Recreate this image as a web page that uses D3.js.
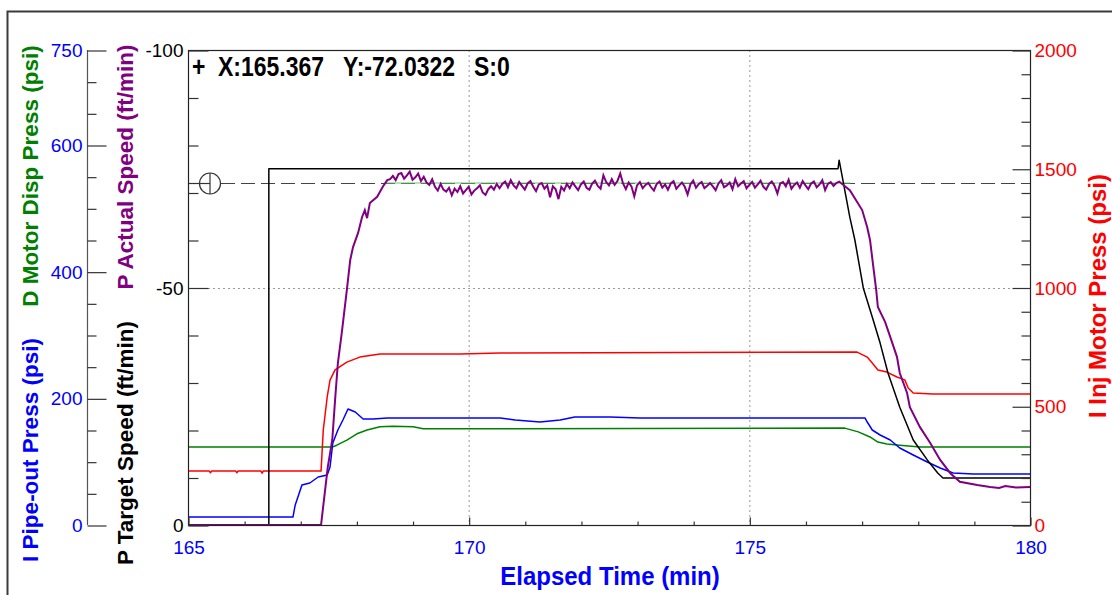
<!DOCTYPE html>
<html><head><meta charset="utf-8">
<script src="https://cdn.jsdelivr.net/npm/d3@7"></script>
<style>
html,body{margin:0;padding:0;background:#fff;}
svg{display:block;}
text{font-family:"Liberation Sans",Arial,sans-serif;}
</style>
</head><body>
<svg id="chart" width="1112" height="595"></svg>
<script>
// ---------------- DATA ----------------
const xTicks = [165, 170, 175, 180];
const leftPsiTicks = [0, 200, 400, 600, 750];
const speedTicks = [0, -50, -100];
const rightPsiTicks = [0, 500, 1000, 1500, 2000];
const headerItems = ["+", "X:165.367", "Y:-72.0322", "S:0"];
const cursorY = -72.0322;

// P Target Speed (ft/min) [time, value]
const targetSpeed = [[165,0],[166.44,0],[166.44,-75],[176.58,-75],[176.60,-76.8],[176.79,-64.8],[176.88,-60.0],
  [177.03,-49.9],[177.19,-43.8],[177.33,-38.3],[177.47,-32.0],[177.68,-24.8],[177.92,-17.9],[178.17,-13.7],
  [178.36,-10.9],[178.45,-9.9],[180,-9.9]];

// P Actual Speed (ft/min): rise, sampled plateau, fall
const actualRise = [[165,0],[167.37,0],[167.49,-12.2],[167.57,-17.9],[167.62,-26.3],[167.67,-34.1],[167.74,-40.5],
  [167.83,-49.5],[167.89,-55.8],[167.94,-58.5],[168.03,-61.5],[168.10,-64.8],[168.15,-66.3],[168.19,-64.6],
  [168.24,-67.8],[168.37,-69.1],[168.47,-71.2],[168.55,-72.6]];
const plateauStart = 168.60, plateauStep = 0.05;
const actualPlateau = [
  -72.8,-73.5,-72.6,-73.9,-74.1,-72.9,-73.6,-74.4,-72.7,-73.2,-74.0,-72.4,-73.3,-72.1,-71.6,-72.8,-71.2,-70.4,-71.8,-70.6,
  -70.2,-71.0,-69.4,-70.8,-70.1,-71.3,-69.8,-70.5,-71.2,-69.6,-70.4,-70.9,-71.5,-70.0,-69.5,-70.7,-71.3,-70.6,-71.8,-70.9,
  -71.8,-72.3,-71.1,-72.6,-71.5,-70.9,-72.2,-71.4,-70.6,-71.9,-72.4,-71.2,-70.3,-71.7,-72.0,-70.8,-71.5,-69.0,-71.3,-70.7,
  -68.6,-71.2,-70.4,-71.8,-70.9,-72.1,-71.3,-70.5,-71.7,-72.3,-71.0,-70.6,-71.9,-72.5,-71.4,-70.8,-73.6,-72.2,-71.5,-72.8,
  -71.6,-72.4,-74.0,-71.9,-70.7,-72.1,-71.3,-69.2,-71.5,-72.2,-70.9,-71.6,-72.0,-71.1,-70.4,-71.8,-72.3,-71.0,-71.7,-70.6,
  -71.9,-72.4,-70.8,-71.5,-72.1,-71.2,-69.6,-71.7,-72.5,-71.0,-71.8,-72.2,-70.9,-71.4,-72.0,-71.3,-70.5,-71.9,-72.6,-71.1,
  -71.5,-72.1,-70.7,-72.8,-71.3,-71.9,-72.4,-70.9,-71.6,-72.2,-71.0,-71.7,-72.5,-71.2,-70.6,-71.8,-72.3,-71.4,-69.8,-71.9,
  -72.2,-71.3,-72.7,-70.8,-71.6,-72.1,-71.0,-72.4,-71.5,-70.7,-71.9,-72.3,-71.1,-71.7,-72.6,-70.5,-71.8,-72.2,-71.4,-72.0,
  -72.3];
const actualFall = [[176.79,-70.5],[177.01,-66.3],[177.10,-62.7],[177.15,-60.0],[177.20,-55.2],[177.26,-49.5],
  [177.29,-45.9],[177.42,-42.7],[177.51,-39.6],[177.63,-35.4],[177.68,-32.0],[177.81,-27.8],[177.86,-24.8],
  [178.04,-20.6],[178.22,-17.3],[178.40,-13.7],[178.58,-10.9],[178.75,-9.1],[179.06,-8.4],[179.29,-8.0],
  [179.45,-7.8],[179.56,-8.2],[179.75,-7.9],[180,-8.0]];

// I Pipe-out Press (psi, 0-750)
const pipeOut = [[165,12.6],[166.87,12.6],[166.91,31.6],[167.03,63.2],[167.17,66.3],[167.32,75.8],[167.48,79.0],
  [167.53,91.6],[167.58,129.5],[167.67,150],[167.76,165.8],[167.85,183.2],[167.98,178.4],[168.12,167.4],
  [168.30,167.4],[168.55,169],[170.56,169],[170.83,165.8],[171.27,162.6],[171.63,165.8],[171.89,170.5],
  [172.52,170.5],[173.05,169],[177.06,169],[177.10,162.6],[177.19,150],[177.33,142.1],[177.51,134.2],
  [177.68,121.6],[177.92,110.5],[178.17,99.5],[178.40,90],[178.63,82.1],[178.99,80.5],[180,80.5]];

// D Motor Disp Press (psi, 0-750)
const motorDisp = [[165,123],[167.57,123],[167.65,126],[167.83,134],[168.01,144],[168.19,150],[168.42,155],
  [168.65,156],[169.01,155],[169.19,152],[169.85,152],[176.70,153],[176.94,147],[177.15,139],[177.29,131],
  [177.45,128],[177.68,126],[178.04,123],[180,123]];

// I Inj Motor Press (psi, 0-2000)
const injMotor = [[165,227],[165.38,227],[165.40,220],[165.42,227],[165.85,227],[165.87,220],[165.89,227],
  [166.30,227],[166.32,218],[166.34,227],[167.37,227],[167.41,400],[167.48,539],[167.53,610],[167.62,653],
  [167.83,686],[168.06,707],[168.42,720],[169.85,720],[170.56,724],[176.92,728],[177.10,707],[177.19,682],
  [177.29,653],[177.45,644],[177.63,623],[177.77,611],[177.83,577],[177.92,556],[178.27,552],[180,552]];

// green set-point trace under the actual speed
const setPoint = [[168.50,-72.0],[176.80,-72.0]];

// ---------------- CHART ----------------
const svg = d3.select("#chart");
const L = 188, R = 1030, T = 50, B = 525;
const x = d3.scaleLinear().domain([165, 180]).range([L, R]);
const ySpeed = d3.scaleLinear().domain([0, -100]).range([B, T]);
const yPsiL = d3.scaleLinear().domain([0, 750]).range([B, T]);
const yPsiR = d3.scaleLinear().domain([0, 2000]).range([B, T]);

const C = {blue:"#0000ff", green:"#008000", purple:"#800080", red:"#ff0000", black:"#000000"};
const plain = d => String(d);

// outer frame
svg.append("path").attr("d", "M7.5,595 L7.5,11.5 L1112,11.5").attr("fill","none").attr("stroke","#3a3a3a").attr("stroke-width",2);

// grid
const grid = svg.append("g").attr("stroke","#999").attr("stroke-dasharray","2,3").attr("stroke-width",1);
[170,175].forEach(v => grid.append("line").attr("x1",x(v)+0.5).attr("x2",x(v)+0.5).attr("y1",T).attr("y2",B));
grid.append("line").attr("x1",L+20).attr("x2",R-18).attr("y1",Math.round(ySpeed(-50))+0.5).attr("y2",Math.round(ySpeed(-50))+0.5);

// cursor marker and dashed line
const cy = Math.round(ySpeed(cursorY)) + 0.5;
svg.append("line").attr("x1",221).attr("x2",R).attr("y1",cy).attr("y2",cy)
  .attr("stroke","#444").attr("stroke-width",1.2).attr("stroke-dasharray","14,6");
svg.append("circle").attr("cx",210).attr("cy",cy).attr("r",10.5).attr("fill","none").attr("stroke","#333").attr("stroke-width",1.2);
svg.append("line").attr("x1",210).attr("x2",210).attr("y1",cy-10.5).attr("y2",cy+10.5).attr("stroke","#333").attr("stroke-width",1.2);
svg.append("line").attr("x1",L).attr("x2",210).attr("y1",cy).attr("y2",cy).attr("stroke","#333").attr("stroke-width",1.2);

// series
const lineSpeed = d3.line().x(d => x(d[0])).y(d => ySpeed(d[1]));
const lineL = d3.line().x(d => x(d[0])).y(d => yPsiL(d[1]));
const lineR = d3.line().x(d => x(d[0])).y(d => yPsiR(d[1]));
const actualSpeed = actualRise
  .concat(actualPlateau.map((v, i) => [plateauStart + i * plateauStep, v]))
  .concat(actualFall);

const series = svg.append("g").attr("fill","none").attr("stroke-width",1.5).attr("stroke-linejoin","round");
series.append("path").datum(setPoint).attr("d", lineSpeed).attr("stroke","#66cc66").attr("stroke-width",1);
series.append("path").datum(motorDisp).attr("d", lineL).attr("stroke", C.green);
series.append("path").datum(injMotor).attr("d", lineR).attr("stroke", C.red);
series.append("path").datum(pipeOut).attr("d", lineL).attr("stroke", C.blue);
series.append("path").datum(targetSpeed).attr("d", lineSpeed).attr("stroke", C.black);
series.append("path").datum(actualSpeed).attr("d", lineSpeed).attr("stroke", C.purple).attr("stroke-width",2).attr("stroke-linejoin","miter");

// plot border
svg.append("rect").attr("x",L+0.5).attr("y",T+0.5).attr("width",R-L).attr("height",B-T)
  .attr("fill","none").attr("stroke","#222").attr("stroke-width",1.2);

function styleAxis(g, color, size) {
  g.select(".domain").remove();
  g.selectAll(".tick line").attr("stroke","#333").attr("stroke-width",1.2);
  g.selectAll(".tick text").attr("fill", color).style("font-size", size + "px");
}

// left pressure axis (blue/green)
svg.append("line").attr("x1",87.5).attr("x2",87.5).attr("y1",T).attr("y2",B).attr("stroke","#555").attr("stroke-width",1.2);
svg.append("g").attr("transform","translate(87.5,0.5)")
  .call(d3.axisLeft(yPsiL).tickValues(d3.range(50, 750, 50).filter(v => !leftPsiTicks.includes(v))).tickSize(-9).tickFormat(""))
  .call(g => styleAxis(g, C.blue, 19));
svg.append("g").attr("transform","translate(87.5,0.5)")
  .call(d3.axisLeft(yPsiL).tickValues(leftPsiTicks).tickSizeInner(-19).tickSizeOuter(0).tickPadding(5).tickFormat(plain))
  .call(g => styleAxis(g, C.blue, 19));

// speed axis
svg.append("g").attr("transform",`translate(${L+0.5},0.5)`)
  .call(d3.axisLeft(ySpeed).tickValues(d3.range(-10, -100, -10).filter(v => !speedTicks.includes(v))).tickSize(-10).tickFormat(""))
  .call(g => styleAxis(g, C.black, 19));
svg.append("g").attr("transform",`translate(${L+0.5},0.5)`)
  .call(d3.axisLeft(ySpeed).tickValues(speedTicks).tickSizeInner(-20).tickSizeOuter(0).tickPadding(5).tickFormat(plain))
  .call(g => styleAxis(g, C.black, 19));

// right axis
svg.append("g").attr("transform",`translate(${R+0.5},0.5)`)
  .call(d3.axisRight(yPsiR).tickValues(d3.range(100, 2000, 100).filter(v => !rightPsiTicks.includes(v))).tickSize(-9).tickFormat(""))
  .call(g => styleAxis(g, C.red, 19));
svg.append("g").attr("transform",`translate(${R+0.5},0.5)`)
  .call(d3.axisRight(yPsiR).tickValues(rightPsiTicks).tickSizeInner(-18).tickSizeOuter(0).tickPadding(4).tickFormat(plain))
  .call(g => styleAxis(g, C.red, 19));

// x axis
svg.append("g").attr("transform",`translate(0.5,${B+0.5})`)
  .call(d3.axisBottom(x).tickValues(d3.range(166, 180, 1).filter(v => !xTicks.includes(v))).tickSize(-4).tickFormat(""))
  .call(g => styleAxis(g, C.blue, 19));
svg.append("g").attr("transform",`translate(0.5,${B+0.5})`)
  .call(d3.axisBottom(x).tickValues(xTicks).tickSizeInner(-8).tickSizeOuter(0).tickPadding(15).tickFormat(plain))
  .call(g => styleAxis(g, C.blue, 19));

// titles
svg.append("text").attr("transform","translate(610,585) scale(1,1.08)").attr("text-anchor","middle")
  .attr("fill",C.blue).style("font-size","24px").style("font-weight","bold").text("Elapsed Time (min)");

const vTitles = [
  {t:"D Motor Disp Press (psi)", x:38, y:176, c:C.green, s:22.5},
  {t:"I Pipe-out Press (psi)", x:38, y:450, c:C.blue, s:22.5},
  {t:"P Actual Speed (ft/min)", x:133, y:167, c:C.purple, s:22.5},
  {t:"P Target Speed (ft/min)", x:133, y:443, c:C.black, s:22.5},
  {t:"I Inj Motor Press (psi)", x:1106, y:296, c:C.red, s:24}
];
vTitles.forEach(d => svg.append("text")
  .attr("transform",`translate(${d.x},${d.y}) rotate(-90)`).attr("text-anchor","middle")
  .attr("fill",d.c).style("font-size",d.s+"px").style("font-weight","bold").text(d.t));

// header readout
const headerX = [192, 218, 343, 474];
headerItems.forEach((s, i) => svg.append("text").attr("transform",`translate(${headerX[i]},76) scale(1,1.18)`)
  .attr("fill","#000").style("font-size","23px").style("font-weight","bold").text(s));
</script>
</body></html>
